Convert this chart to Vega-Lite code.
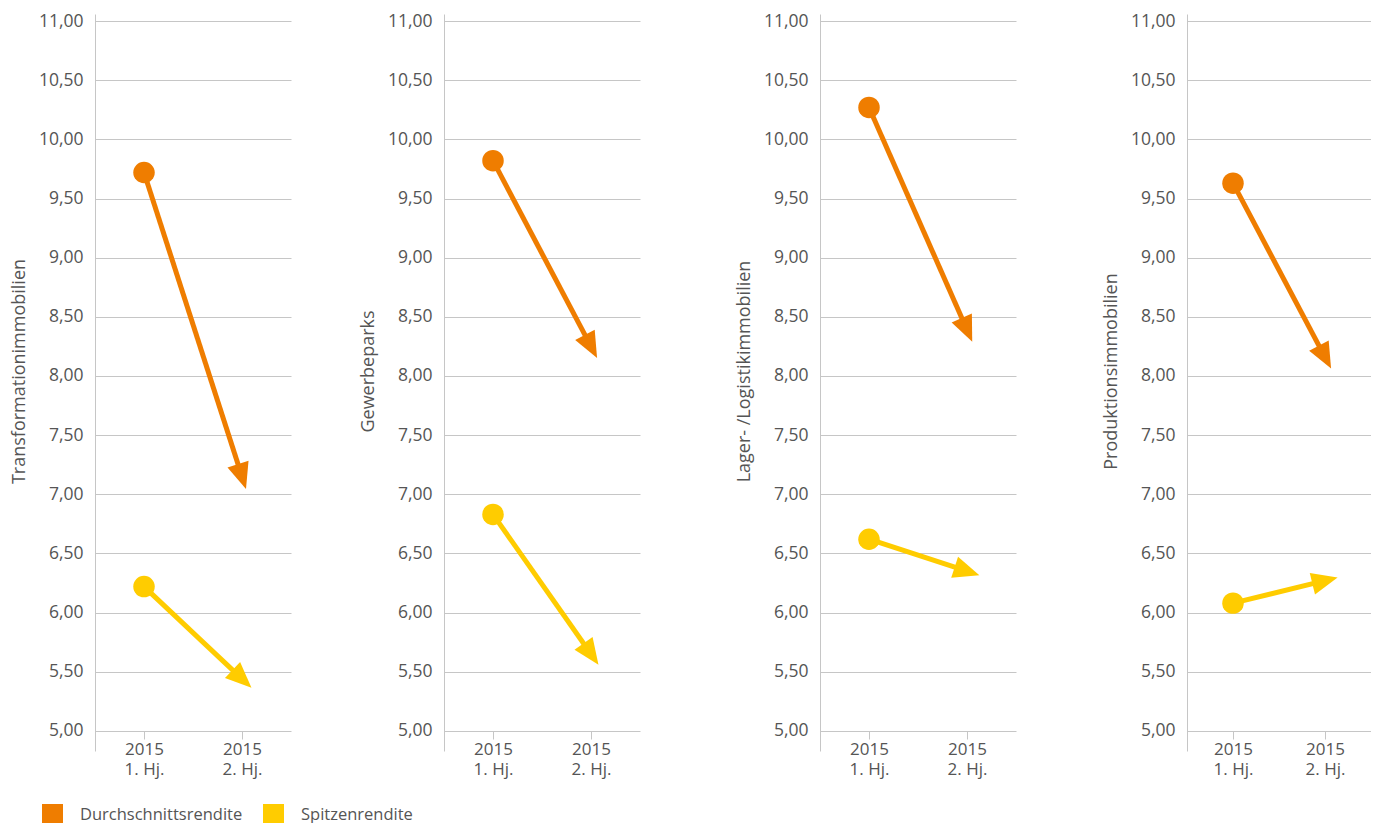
{
  "$schema": "https://vega.github.io/schema/vega-lite/v6.json",
  "background": "white",
  "padding": {"left": 10, "top": 12, "right": 0, "bottom": 0},
  "datasets": {
    "rendite": [
      {"Kategorie": "Transformationimmobilien", "Reihe": "Durchschnittsrendite", "Halbjahr": "2015 1. Hj.", "Wert": 9.72},
      {"Kategorie": "Transformationimmobilien", "Reihe": "Durchschnittsrendite", "Halbjahr": "2015 2. Hj.", "Wert": 7.15},
      {"Kategorie": "Transformationimmobilien", "Reihe": "Spitzenrendite", "Halbjahr": "2015 1. Hj.", "Wert": 6.22},
      {"Kategorie": "Transformationimmobilien", "Reihe": "Spitzenrendite", "Halbjahr": "2015 2. Hj.", "Wert": 5.44},
      {"Kategorie": "Gewerbeparks", "Reihe": "Durchschnittsrendite", "Halbjahr": "2015 1. Hj.", "Wert": 9.82},
      {"Kategorie": "Gewerbeparks", "Reihe": "Durchschnittsrendite", "Halbjahr": "2015 2. Hj.", "Wert": 8.25},
      {"Kategorie": "Gewerbeparks", "Reihe": "Spitzenrendite", "Halbjahr": "2015 1. Hj.", "Wert": 6.83},
      {"Kategorie": "Gewerbeparks", "Reihe": "Spitzenrendite", "Halbjahr": "2015 2. Hj.", "Wert": 5.65},
      {"Kategorie": "Lager- /Logistikimmobilien", "Reihe": "Durchschnittsrendite", "Halbjahr": "2015 1. Hj.", "Wert": 10.27},
      {"Kategorie": "Lager- /Logistikimmobilien", "Reihe": "Durchschnittsrendite", "Halbjahr": "2015 2. Hj.", "Wert": 8.39},
      {"Kategorie": "Lager- /Logistikimmobilien", "Reihe": "Spitzenrendite", "Halbjahr": "2015 1. Hj.", "Wert": 6.62},
      {"Kategorie": "Lager- /Logistikimmobilien", "Reihe": "Spitzenrendite", "Halbjahr": "2015 2. Hj.", "Wert": 6.35},
      {"Kategorie": "Produktionsimmobilien", "Reihe": "Durchschnittsrendite", "Halbjahr": "2015 1. Hj.", "Wert": 9.63},
      {"Kategorie": "Produktionsimmobilien", "Reihe": "Durchschnittsrendite", "Halbjahr": "2015 2. Hj.", "Wert": 8.16},
      {"Kategorie": "Produktionsimmobilien", "Reihe": "Spitzenrendite", "Halbjahr": "2015 1. Hj.", "Wert": 6.08},
      {"Kategorie": "Produktionsimmobilien", "Reihe": "Spitzenrendite", "Halbjahr": "2015 2. Hj.", "Wert": 6.27}
    ]
  },
  "resolve": {"scale": {"color": "shared"}, "legend": {"color": "shared"}},
  "spacing": 95,
  "hconcat": [
    {
      "spacing": 68,
      "hconcat": [
        {
          "width": 196, "height": 737,
          "data": {"name": "rendite"},
          "transform": [{"filter": "datum.Kategorie == 'Transformationimmobilien'"}],
          "encoding": {
            "x": {"field": "Halbjahr", "type": "nominal", "sort": ["2015 1. Hj.", "2015 2. Hj."], "scale": {"paddingInner": 0, "paddingOuter": 0}, "axis": {"title": null, "labelAngle": 0, "labelExpr": "[slice(datum.label,0,4), slice(datum.label,5)]", "domain": false, "grid": false, "bandPosition": 0, "tickExtra": false, "tickSize": 8, "tickColor": "#c6c6c6", "offset": -20, "labelPadding": 2, "labelLineHeight": 20.5, "labelFontSize": 17, "labelColor": "#555555"}},
            "y": {"field": "Wert", "type": "quantitative", "scale": {"domain": [4.83, 11.06], "nice": false, "zero": false}, "axis": {"title": "Transformationimmobilien", "titleY": 357, "values": [5, 5.5, 6, 6.5, 7, 7.5, 8, 8.5, 9, 9.5, 10, 10.5, 11], "labelExpr": "replace(format(datum.value, '.2f'), '.', ',')", "ticks": false, "labelPadding": 12, "grid": true, "gridColor": "#c6c6c6", "domainColor": "#c6c6c6", "labelFontSize": 17.5, "labelColor": "#555555", "titleFontSize": 18, "titleColor": "#555555", "titleFontWeight": "normal", "titlePadding": 10}},
            "color": {"field": "Reihe", "type": "nominal", "scale": {"domain": ["Durchschnittsrendite", "Spitzenrendite"], "range": ["#EF7D00", "#FFCC00"]}, "legend": {"title": null, "orient": "none", "direction": "horizontal", "legendX": -53, "legendY": 790, "symbolType": "square", "symbolSize": 441, "symbolStrokeWidth": 0, "symbolOpacity": 1, "labelFontSize": 16.5, "labelColor": "#555555", "labelOffset": 17, "labelLimit": 400, "columnPadding": 20}}
          },
          "layer": [
            {"mark": {"type": "line", "strokeWidth": 5}},
            {"transform": [{"filter": "datum.Halbjahr == '2015 1. Hj.'"}], "mark": {"type": "point", "shape": "circle", "filled": true, "size": 462, "opacity": 1}},
            {"transform": [{"window": [{"op": "first_value", "field": "Wert", "as": "Start"}], "groupby": ["Reihe"], "sort": [{"field": "Halbjahr"}], "frame": [null, null]}, {"filter": "datum.Halbjahr == '2015 2. Hj.'"}, {"calculate": "atan2(98, (datum.Wert - datum.Start) * 118.3) * 180 / PI", "as": "Winkel"}], "mark": {"type": "point", "shape": "M0,-1L0.85,1L-0.85,1Z", "filled": true, "size": 676, "opacity": 1}, "encoding": {"angle": {"field": "Winkel", "type": "quantitative", "scale": null}}}
          ]
        },
        {
          "width": 196, "height": 737,
          "data": {"name": "rendite"},
          "transform": [{"filter": "datum.Kategorie == 'Gewerbeparks'"}],
          "encoding": {
            "x": {"field": "Halbjahr", "type": "nominal", "sort": ["2015 1. Hj.", "2015 2. Hj."], "scale": {"paddingInner": 0, "paddingOuter": 0}, "axis": {"title": null, "labelAngle": 0, "labelExpr": "[slice(datum.label,0,4), slice(datum.label,5)]", "domain": false, "grid": false, "bandPosition": 0, "tickExtra": false, "tickSize": 8, "tickColor": "#c6c6c6", "offset": -20, "labelPadding": 2, "labelLineHeight": 20.5, "labelFontSize": 17, "labelColor": "#555555"}},
            "y": {"field": "Wert", "type": "quantitative", "scale": {"domain": [4.83, 11.06], "nice": false, "zero": false}, "axis": {"title": "Gewerbeparks", "titleY": 357, "values": [5, 5.5, 6, 6.5, 7, 7.5, 8, 8.5, 9, 9.5, 10, 10.5, 11], "labelExpr": "replace(format(datum.value, '.2f'), '.', ',')", "ticks": false, "labelPadding": 12, "grid": true, "gridColor": "#c6c6c6", "domainColor": "#c6c6c6", "labelFontSize": 17.5, "labelColor": "#555555", "titleFontSize": 18, "titleColor": "#555555", "titleFontWeight": "normal", "titlePadding": 10}},
            "color": {"field": "Reihe", "type": "nominal"}
          },
          "layer": [
            {"mark": {"type": "line", "strokeWidth": 5}},
            {"transform": [{"filter": "datum.Halbjahr == '2015 1. Hj.'"}], "mark": {"type": "point", "shape": "circle", "filled": true, "size": 462, "opacity": 1}},
            {"transform": [{"window": [{"op": "first_value", "field": "Wert", "as": "Start"}], "groupby": ["Reihe"], "sort": [{"field": "Halbjahr"}], "frame": [null, null]}, {"filter": "datum.Halbjahr == '2015 2. Hj.'"}, {"calculate": "atan2(98, (datum.Wert - datum.Start) * 118.3) * 180 / PI", "as": "Winkel"}], "mark": {"type": "point", "shape": "M0,-1L0.85,1L-0.85,1Z", "filled": true, "size": 676, "opacity": 1}, "encoding": {"angle": {"field": "Winkel", "type": "quantitative", "scale": null}}}
          ]
        }
      ]
    },
    {
      "spacing": 86,
      "hconcat": [
        {
          "width": 196, "height": 737,
          "data": {"name": "rendite"},
          "transform": [{"filter": "datum.Kategorie == 'Lager- /Logistikimmobilien'"}],
          "encoding": {
            "x": {"field": "Halbjahr", "type": "nominal", "sort": ["2015 1. Hj.", "2015 2. Hj."], "scale": {"paddingInner": 0, "paddingOuter": 0}, "axis": {"title": null, "labelAngle": 0, "labelExpr": "[slice(datum.label,0,4), slice(datum.label,5)]", "domain": false, "grid": false, "bandPosition": 0, "tickExtra": false, "tickSize": 8, "tickColor": "#c6c6c6", "offset": -20, "labelPadding": 2, "labelLineHeight": 20.5, "labelFontSize": 17, "labelColor": "#555555"}},
            "y": {"field": "Wert", "type": "quantitative", "scale": {"domain": [4.83, 11.06], "nice": false, "zero": false}, "axis": {"title": "Lager- /Logistikimmobilien", "titleY": 357, "values": [5, 5.5, 6, 6.5, 7, 7.5, 8, 8.5, 9, 9.5, 10, 10.5, 11], "labelExpr": "replace(format(datum.value, '.2f'), '.', ',')", "ticks": false, "labelPadding": 12, "grid": true, "gridColor": "#c6c6c6", "domainColor": "#c6c6c6", "labelFontSize": 17.5, "labelColor": "#555555", "titleFontSize": 18, "titleColor": "#555555", "titleFontWeight": "normal", "titlePadding": 10}},
            "color": {"field": "Reihe", "type": "nominal"}
          },
          "layer": [
            {"mark": {"type": "line", "strokeWidth": 5}},
            {"transform": [{"filter": "datum.Halbjahr == '2015 1. Hj.'"}], "mark": {"type": "point", "shape": "circle", "filled": true, "size": 462, "opacity": 1}},
            {"transform": [{"window": [{"op": "first_value", "field": "Wert", "as": "Start"}], "groupby": ["Reihe"], "sort": [{"field": "Halbjahr"}], "frame": [null, null]}, {"filter": "datum.Halbjahr == '2015 2. Hj.'"}, {"calculate": "atan2(98, (datum.Wert - datum.Start) * 118.3) * 180 / PI", "as": "Winkel"}], "mark": {"type": "point", "shape": "M0,-1L0.85,1L-0.85,1Z", "filled": true, "size": 676, "opacity": 1}, "encoding": {"angle": {"field": "Winkel", "type": "quantitative", "scale": null}}}
          ]
        },
        {
          "width": 184, "height": 737,
          "data": {"name": "rendite"},
          "transform": [{"filter": "datum.Kategorie == 'Produktionsimmobilien'"}],
          "encoding": {
            "x": {"field": "Halbjahr", "type": "nominal", "sort": ["2015 1. Hj.", "2015 2. Hj."], "scale": {"paddingInner": 0, "paddingOuter": 0}, "axis": {"title": null, "labelAngle": 0, "labelExpr": "[slice(datum.label,0,4), slice(datum.label,5)]", "domain": false, "grid": false, "bandPosition": 0, "tickExtra": false, "tickSize": 8, "tickColor": "#c6c6c6", "offset": -20, "labelPadding": 2, "labelLineHeight": 20.5, "labelFontSize": 17, "labelColor": "#555555"}},
            "y": {"field": "Wert", "type": "quantitative", "scale": {"domain": [4.83, 11.06], "nice": false, "zero": false}, "axis": {"title": "Produktionsimmobilien", "titleY": 357, "values": [5, 5.5, 6, 6.5, 7, 7.5, 8, 8.5, 9, 9.5, 10, 10.5, 11], "labelExpr": "replace(format(datum.value, '.2f'), '.', ',')", "ticks": false, "labelPadding": 12, "grid": true, "gridColor": "#c6c6c6", "domainColor": "#c6c6c6", "labelFontSize": 17.5, "labelColor": "#555555", "titleFontSize": 18, "titleColor": "#555555", "titleFontWeight": "normal", "titlePadding": 10}},
            "color": {"field": "Reihe", "type": "nominal"}
          },
          "layer": [
            {"mark": {"type": "line", "strokeWidth": 5}},
            {"transform": [{"filter": "datum.Halbjahr == '2015 1. Hj.'"}], "mark": {"type": "point", "shape": "circle", "filled": true, "size": 462, "opacity": 1}},
            {"transform": [{"window": [{"op": "first_value", "field": "Wert", "as": "Start"}], "groupby": ["Reihe"], "sort": [{"field": "Halbjahr"}], "frame": [null, null]}, {"filter": "datum.Halbjahr == '2015 2. Hj.'"}, {"calculate": "atan2(92, (datum.Wert - datum.Start) * 118.3) * 180 / PI", "as": "Winkel"}], "mark": {"type": "point", "shape": "M0,-1L0.85,1L-0.85,1Z", "filled": true, "size": 676, "opacity": 1}, "encoding": {"angle": {"field": "Winkel", "type": "quantitative", "scale": null}}}
          ]
        }
      ]
    }
  ],
  "config": {
    "font": "Open Sans",
    "view": {"stroke": null}
  }
}
